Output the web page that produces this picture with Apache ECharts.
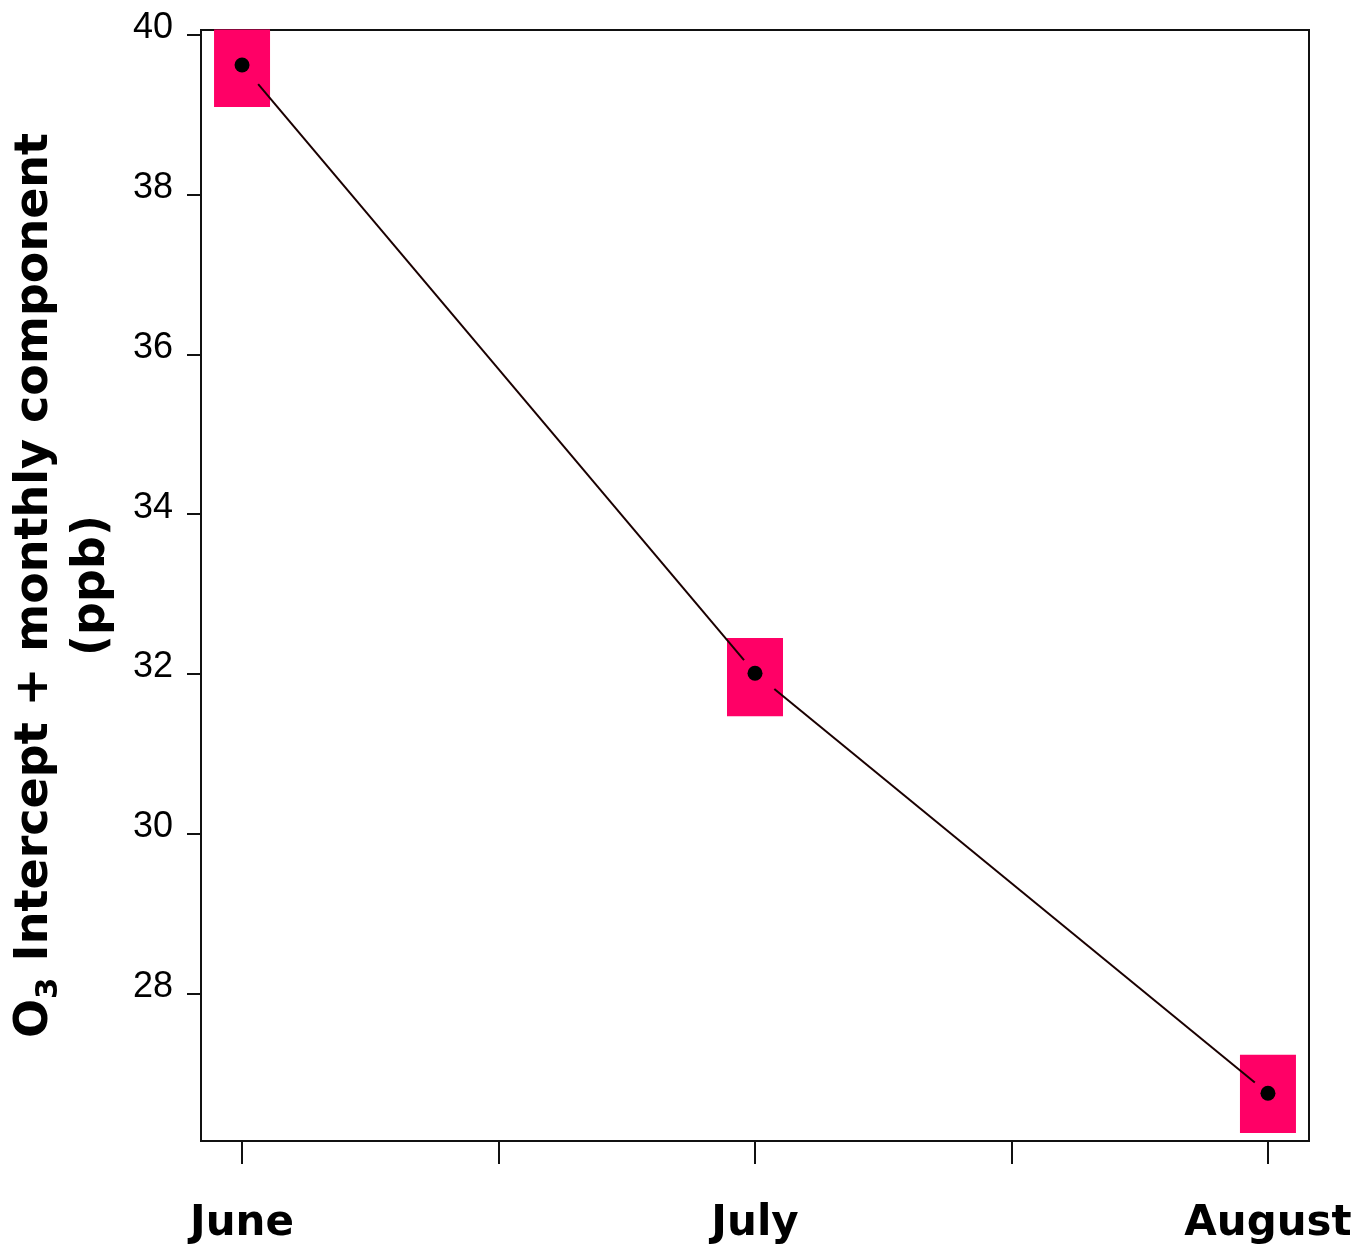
<!DOCTYPE html>
<html><head><meta charset="utf-8">
<script src="https://cdn.jsdelivr.net/npm/echarts@6/dist/echarts.min.js"></script>
<style>html,body{margin:0;padding:0;background:#fff}#c{width:1366px;height:1249px}</style>
</head><body><div id="c"></div>
<script>
// Data
const months = ['June', 'July', 'August'];
const monthPos = [0, 1, 2];
const ozone = [39.625, 32.008, 26.748];
const boxLow = [39.10, 31.47, 26.25];
const boxHigh = [40.07, 32.45, 27.23];
const yTicks = [28, 30, 32, 34, 36, 38, 40];
const xTicks = [0, 0.5, 1, 1.5, 2];

const chart = echarts.init(document.getElementById('c'));

const segData = [];
for (let i = 0; i < monthPos.length - 1; i++) {
  segData.push([monthPos[i], ozone[i], monthPos[i + 1], ozone[i + 1]]);
}

const option = {
  animation: false,
  backgroundColor: '#fff',
  grid: { left: 201, right: 57, top: 30, bottom: 108, show: true, borderColor: '#111', borderWidth: 2, backgroundColor: 'transparent' },
  xAxis: {
    type: 'value', min: -0.08, max: 2.08,
    splitLine: { show: false },
    axisLine: { show: true, onZero: false, lineStyle: { color: '#111', width: 2 } },
    axisTick: { show: true, customValues: xTicks, length: 23, lineStyle: { color: '#111', width: 2 } },
    axisLabel: {
      customValues: monthPos,
      formatter: v => months[Math.round(v)],
      fontFamily: 'DejaVu Sans', fontWeight: 'bold', fontSize: 42, color: '#000',
      margin: 62, lineHeight: 42
    }
  },
  yAxis: {
    type: 'value', min: 26.15, max: 40.063,
    splitLine: { show: false },
    axisLine: { show: true, onZero: false, lineStyle: { color: '#111', width: 2 } },
    axisTick: { show: true, customValues: yTicks, length: 14, lineStyle: { color: '#111', width: 2 } },
    axisLabel: {
      customValues: yTicks,
      fontFamily: 'Liberation Sans', fontSize: 36, color: '#000',
      margin: 28, verticalAlign: 'bottom', lineHeight: 13
    },
    name: '{b|O}{s|3}{b| Intercept + monthly component}\n{b|(ppb)}',
    nameLocation: 'middle',
    nameGap: 80,
    nameTextStyle: {
      align: 'center',
      rich: {
        b: { fontFamily: 'DejaVu Sans', fontWeight: 'bold', fontSize: 46, lineHeight: 57, color: '#000' },
        s: { fontFamily: 'DejaVu Sans', fontWeight: 'bold', fontSize: 31, lineHeight: 30, verticalAlign: 'bottom', color: '#000' }
      }
    }
  },
  series: [
    {
      type: 'custom', name: 'box', z: 1,
      data: monthPos.map((x, i) => [x, boxLow[i], boxHigh[i]]),
      encode: { x: 0, y: [1, 2] },
      renderItem: (params, api) => {
        const top = api.coord([api.value(0), api.value(2)]);
        const bot = api.coord([api.value(0), api.value(1)]);
        return { type: 'rect', shape: { x: top[0] - 28, y: top[1], width: 56, height: bot[1] - top[1] }, style: { fill: '#ff0066' } };
      }
    },
    {
      type: 'custom', name: 'line', z: 2,
      data: segData,
      encode: { x: [0, 2], y: [1, 3] },
      renderItem: (params, api) => {
        const a = api.coord([api.value(0), api.value(1)]);
        const b = api.coord([api.value(2), api.value(3)]);
        const dx = b[0] - a[0], dy = b[1] - a[1];
        const len = Math.sqrt(dx * dx + dy * dy);
        const ux = dx / len, uy = dy / len;
        return {
          type: 'line',
          shape: { x1: a[0] + ux * 25, y1: a[1] + uy * 25, x2: b[0] - ux * 17, y2: b[1] - uy * 17 },
          style: { stroke: '#1a0000', lineWidth: 2 }
        };
      }
    },
    {
      type: 'scatter', name: 'O3', z: 3,
      data: monthPos.map((x, i) => [x, ozone[i]]),
      symbol: 'circle', symbolSize: 15,
      itemStyle: { color: '#000', opacity: 1 }
    }
  ]
};
chart.setOption(option);
</script>
</body></html>
